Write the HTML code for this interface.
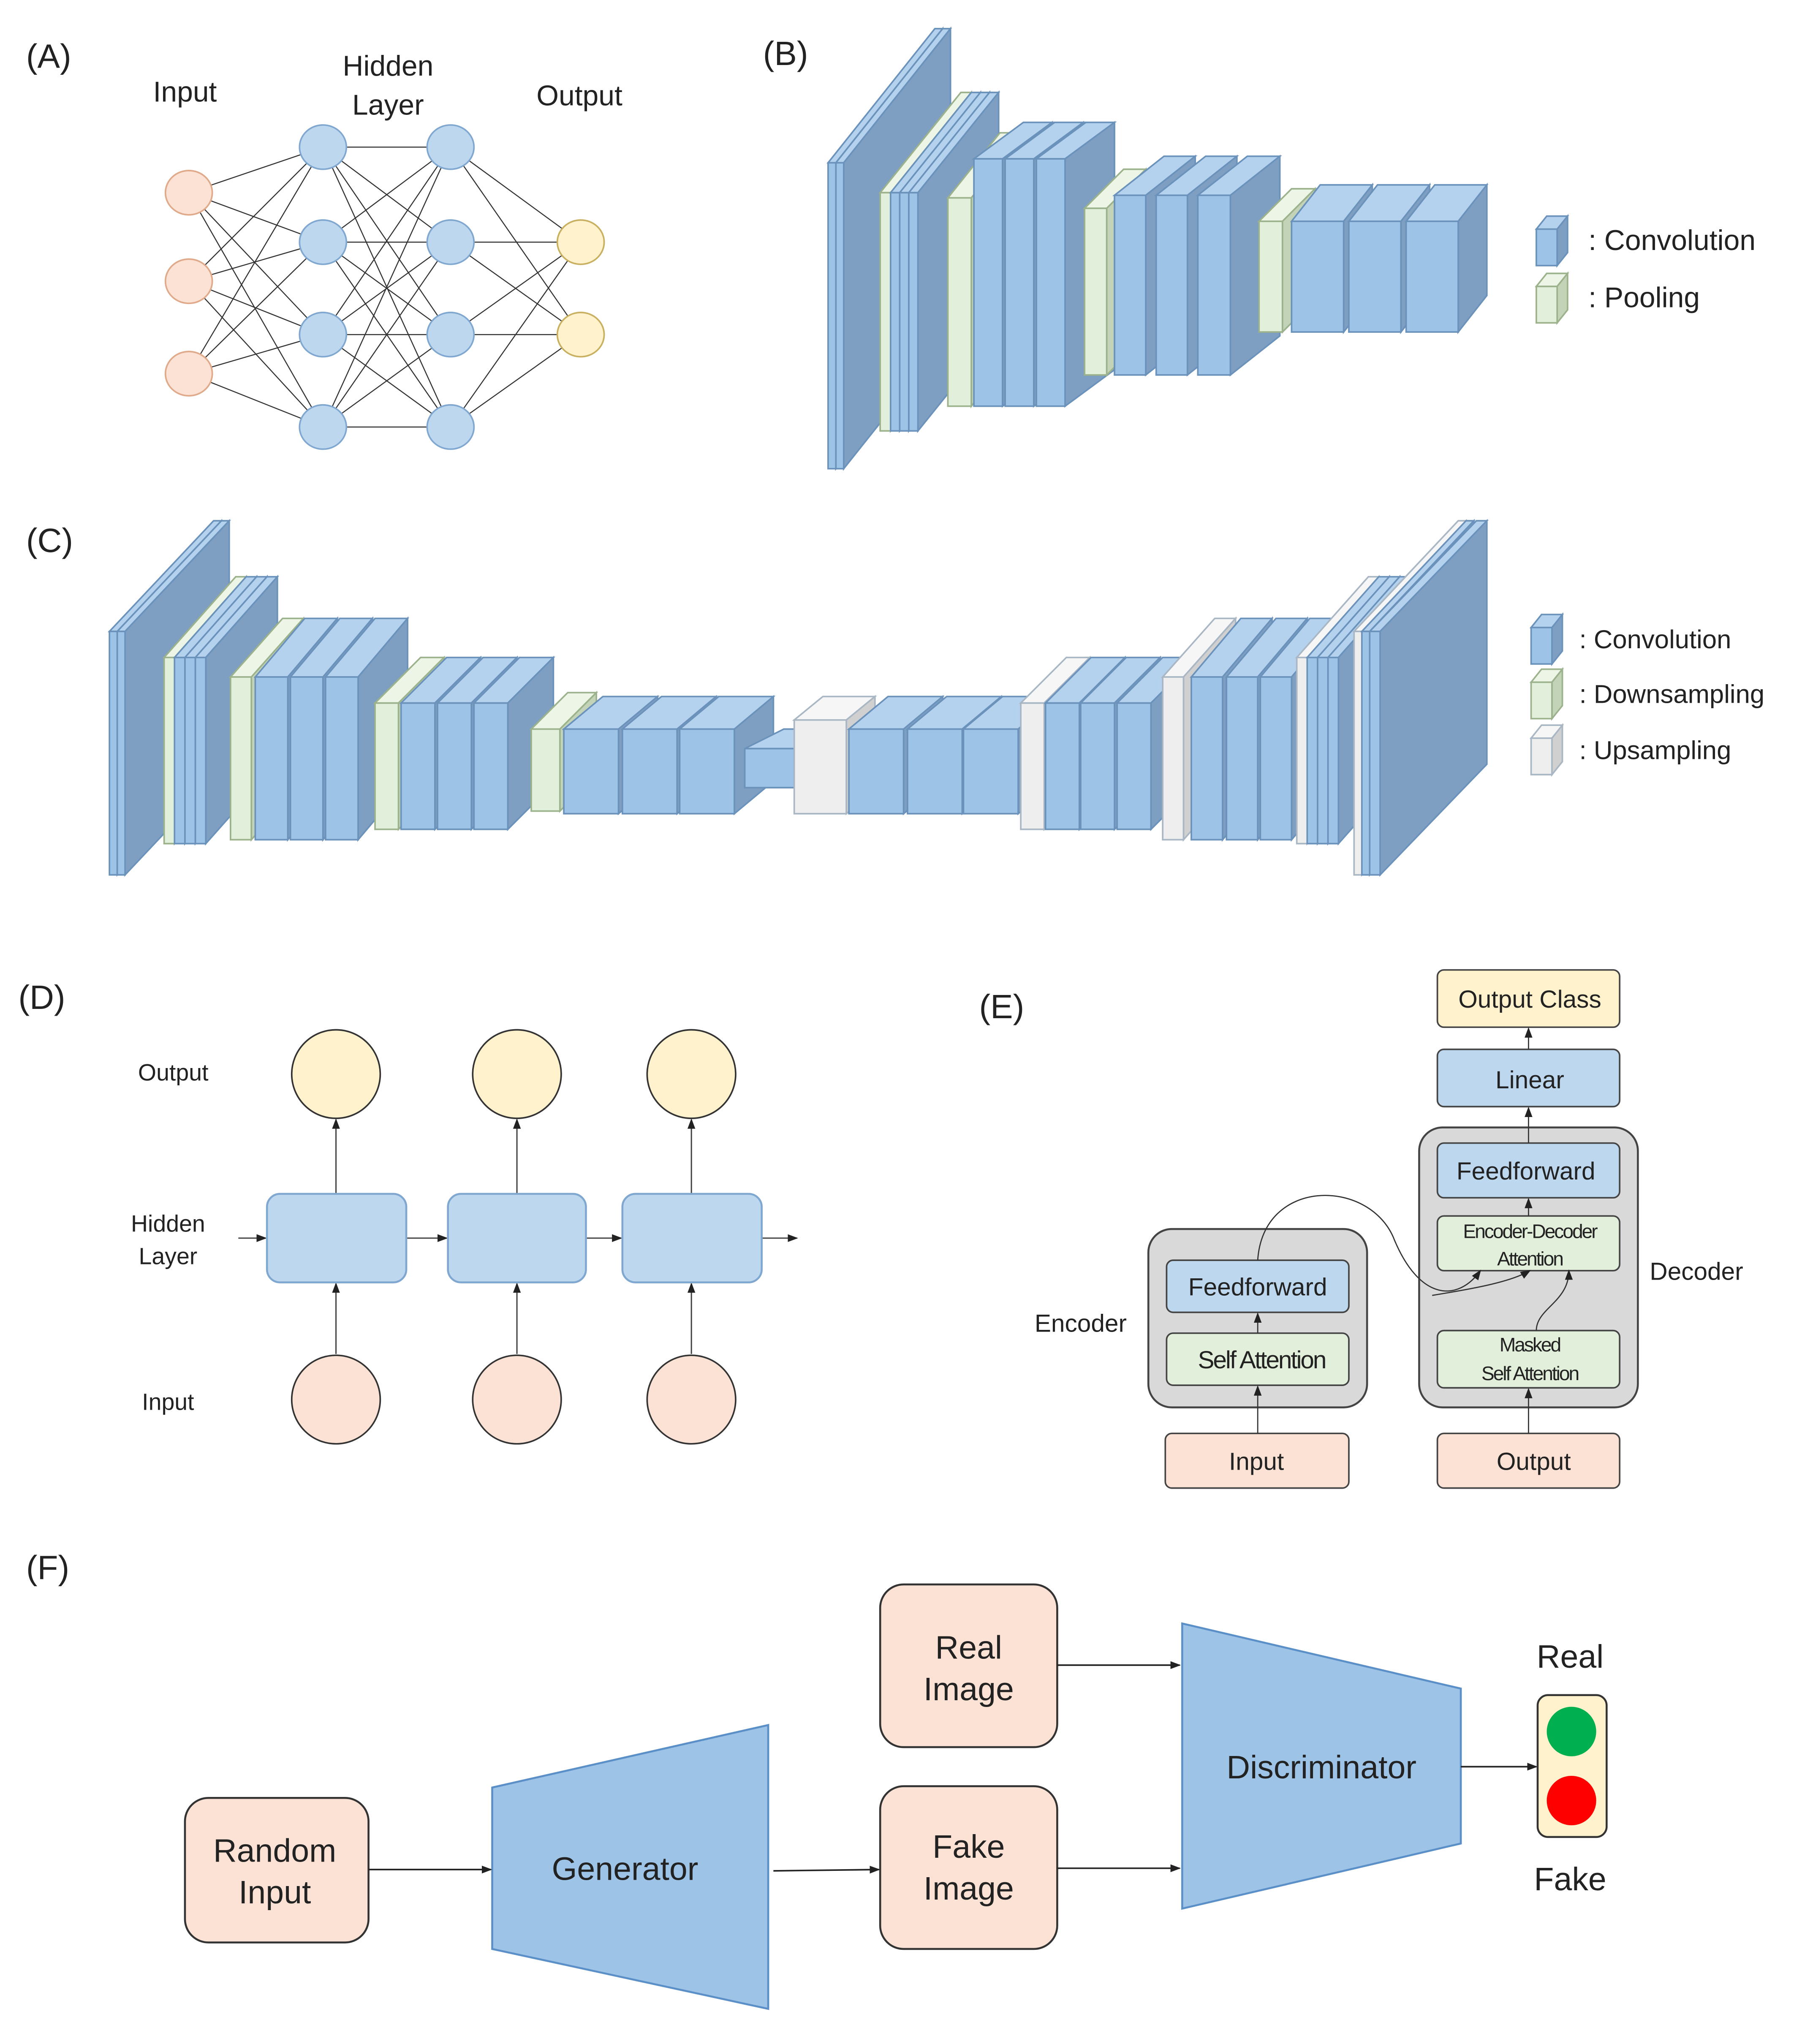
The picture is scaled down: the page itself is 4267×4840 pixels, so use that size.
<!DOCTYPE html>
<html><head><meta charset="utf-8"><style>
html,body{margin:0;padding:0;background:#fff}
svg{display:block}
text{font-family:"Liberation Sans",sans-serif;fill:#222}
</style></head><body>
<svg id="s" width="4267" height="4840" viewBox="0 0 1384 1570" xmlns="http://www.w3.org/2000/svg">
<defs>
<marker id="ar" markerWidth="8" markerHeight="8" refX="7" refY="4" orient="auto" markerUnits="userSpaceOnUse"><path d="M0,1 L8,4 L0,7 z" fill="#222"/></marker>
</defs>
<g id="boxes"></g>
<!-- Panel A -->
<g stroke="#333" stroke-width="0.8" id="alines"></g>
<g id="anodes"></g>
<text x="20" y="52" font-size="26">(A)</text>
<text x="142" y="78" font-size="22" text-anchor="middle">Input</text>
<text x="298" y="58" font-size="22" text-anchor="middle">Hidden</text>
<text x="298" y="88" font-size="22" text-anchor="middle">Layer</text>
<text x="445" y="81" font-size="22" text-anchor="middle">Output</text>
<text x="586" y="50" font-size="26">(B)</text>
<text x="20" y="424" font-size="26">(C)</text>
<text x="1220" y="192" font-size="22">: Convolution</text>
<text x="1220" y="236" font-size="22">: Pooling</text>
<text x="1213" y="498" font-size="20">: Convolution</text>
<text x="1213" y="540" font-size="20">: Downsampling</text>
<text x="1213" y="583" font-size="20">: Upsampling</text>
<!-- Panel D -->
<text x="14" y="775" font-size="26">(D)</text>
<text x="133" y="830" font-size="18" text-anchor="middle">Output</text>
<text x="129" y="946" font-size="18" text-anchor="middle">Hidden</text>
<text x="129" y="971" font-size="18" text-anchor="middle">Layer</text>
<text x="129" y="1083" font-size="18" text-anchor="middle">Input</text>
<g stroke="#444" stroke-width="1" fill="none" marker-end="url(#ar)">
<line x1="258" y1="1040" x2="258" y2="986"/><line x1="397" y1="1040" x2="397" y2="986"/><line x1="531" y1="1040" x2="531" y2="986"/>
<line x1="258" y1="917" x2="258" y2="860"/><line x1="397" y1="917" x2="397" y2="860"/><line x1="531" y1="917" x2="531" y2="860"/>
<line x1="183" y1="951" x2="204" y2="951"/><line x1="312" y1="951" x2="343" y2="951"/><line x1="450" y1="951" x2="477" y2="951"/><line x1="585" y1="951" x2="612" y2="951"/>
</g>
<g stroke="#7fa7d0" stroke-width="1.5" fill="#bdd7ee">
<rect x="205" y="917" width="107" height="68" rx="10"/><rect x="344" y="917" width="106" height="68" rx="10"/><rect x="478" y="917" width="107" height="68" rx="10"/>
</g>
<g stroke="#333" stroke-width="1.2">
<circle cx="258" cy="825" r="34" fill="#fff2cc"/><circle cx="397" cy="825" r="34" fill="#fff2cc"/><circle cx="531" cy="825" r="34" fill="#fff2cc"/>
<circle cx="258" cy="1075" r="34" fill="#fbe2d4"/><circle cx="397" cy="1075" r="34" fill="#fbe2d4"/><circle cx="531" cy="1075" r="34" fill="#fbe2d4"/>
</g>
<!-- Panel E -->
<text x="752" y="782" font-size="26">(E)</text>
<rect x="882" y="944" width="168" height="137" rx="18" fill="#d9d9d9" stroke="#444" stroke-width="1.5"/>
<rect x="1090" y="866" width="168" height="215" rx="18" fill="#d9d9d9" stroke="#444" stroke-width="1.5"/>
<g stroke="#444" stroke-width="1.2">
<rect x="1104" y="745" width="140" height="44" rx="5" fill="#fff2cc"/>
<rect x="1104" y="806" width="140" height="44" rx="5" fill="#bdd7ee"/>
<rect x="1104" y="878" width="140" height="42" rx="5" fill="#bdd7ee"/>
<rect x="1104" y="934" width="140" height="42" rx="5" fill="#e2efda"/>
<rect x="1104" y="1022" width="140" height="44" rx="5" fill="#e2efda"/>
<rect x="1104" y="1101" width="140" height="42" rx="5" fill="#fbe2d4"/>
<rect x="896" y="968" width="140" height="40" rx="5" fill="#bdd7ee"/>
<rect x="896" y="1024" width="140" height="40" rx="5" fill="#e2efda"/>
<rect x="895" y="1101" width="141" height="42" rx="5" fill="#fbe2d4"/>
</g>
<g stroke="#333" stroke-width="0.9" fill="none" marker-end="url(#ar)">
<line x1="1174" y1="806" x2="1174" y2="790"/>
<line x1="1174" y1="878" x2="1174" y2="851"/>
<line x1="1174" y1="934" x2="1174" y2="921"/>
<line x1="1174" y1="1101" x2="1174" y2="1067"/>
<line x1="966" y1="1101" x2="966" y2="1065"/>
<line x1="966" y1="1024" x2="966" y2="1009"/>
<path d="M1180,1022 C1180,1005 1205,1000 1205,976"/>
<path d="M966,968 C970,905 1050,905 1070,950 C1090,1000 1120,1000 1137,976"/>
<path d="M1100,995 C1130,990 1160,985 1175,976"/>
</g>
<g font-size="19" text-anchor="middle">
<text x="1175" y="774">Output Class</text>
<text x="1175" y="836">Linear</text>
<text x="1172" y="906">Feedforward</text>
<text x="1175" y="951" font-size="15" letter-spacing="-1">Encoder-Decoder</text>
<text x="1175" y="972" font-size="15" letter-spacing="-1">Attention</text>
<text x="1175" y="1038" font-size="15" letter-spacing="-1">Masked</text>
<text x="1175" y="1060" font-size="15" letter-spacing="-1">Self Attention</text>
<text x="1178" y="1129">Output</text>
<text x="966" y="995">Feedforward</text>
<text x="969" y="1051" letter-spacing="-1">Self Attention</text>
<text x="965" y="1129">Input</text>
<text x="830" y="1023">Encoder</text>
<text x="1303" y="983">Decoder</text>
</g>
<!-- Panel F -->
<text x="20" y="1213" font-size="26">(F)</text>
<g stroke="#333" stroke-width="1.5">
<rect x="142" y="1381" width="141" height="111" rx="18" fill="#fbe2d4"/>
<rect x="676" y="1217" width="136" height="125" rx="18" fill="#fbe2d4"/>
<rect x="676" y="1372" width="136" height="125" rx="18" fill="#fbe2d4"/>
<rect x="1181" y="1302" width="53" height="109" rx="8" fill="#fff2cc"/>
</g>
<polygon points="378,1373 590,1325 590,1543 378,1497" fill="#9dc3e6" stroke="#5b8fc7" stroke-width="1.5"/>
<polygon points="908,1247 1122,1297 1122,1416 908,1466" fill="#9dc3e6" stroke="#5b8fc7" stroke-width="1.5"/>
<circle cx="1207" cy="1330" r="19" fill="#00b050"/>
<circle cx="1207" cy="1383" r="19" fill="#ff0000"/>
<g stroke="#222" stroke-width="1.2" marker-end="url(#ar)">
<line x1="283" y1="1436" x2="377" y2="1436"/>
<line x1="594" y1="1437" x2="675" y2="1436"/>
<line x1="812" y1="1279" x2="906" y2="1279"/>
<line x1="812" y1="1435" x2="906" y2="1435"/>
<line x1="1122" y1="1357" x2="1180" y2="1357"/>
</g>
<g font-size="25" text-anchor="middle">
<text x="211" y="1430">Random</text><text x="211" y="1462">Input</text>
<text x="744" y="1274">Real</text><text x="744" y="1306">Image</text>
<text x="744" y="1427">Fake</text><text x="744" y="1459">Image</text>
<text x="480" y="1444">Generator</text>
<text x="1015" y="1366">Discriminator</text>
<text x="1206" y="1281">Real</text>
<text x="1206" y="1452">Fake</text>
</g>
</svg>
<script>
var NS="http://www.w3.org/2000/svg";
var g=document.getElementById('boxes');
var C={c:['#9dc3e6','#b4d2ee','#7f9fc2','#6a92bb'],p:['#e2efda','#edf5e6','#c3d3b8','#9cb28c'],u:['#eeeeee','#f6f6f6','#d0d0d0','#a9b6c4']};
function poly(pts,fill,st){var p=document.createElementNS(NS,'polygon');p.setAttribute('points',pts.map(a=>a.join(',')).join(' '));p.setAttribute('fill',fill);p.setAttribute('stroke',st);p.setAttribute('stroke-width','1.2');g.appendChild(p);}
function box(t,x,y,w,h,dx,dy){var c=C[t];
poly([[x,y],[x+dx,y-dy],[x+w+dx,y-dy],[x+w,y]],c[1],c[3]);
poly([[x+w,y],[x+w+dx,y-dy],[x+w+dx,y+h-dy],[x+w,y+h]],c[2],c[3]);
poly([[x,y],[x+w,y],[x+w,y+h],[x,y+h]],c[0],c[3]);}
function seq(list){list.forEach(a=>box.apply(null,a));}
// Panel B
seq([['c',636,125,6,235,82,103],['c',642,125,6,235,82,103],
['p',676,148,8,183,62,77],['c',684,148,7,183,62,77],['c',691,148,7,183,62,77],['c',698,148,7,183,62,77],
['p',728,152,18,160,40,50],['c',748,122,22,190,38,28],['c',772,122,22,190,38,28],['c',796,122,22,190,38,28],
['p',833,160,17,128,30,30],['c',856,150,24,138,38,30],['c',888,150,24,138,38,30],['c',920,150,25,138,38,30],
['p',967,170,18,85,25,25],['c',992,170,40,85,22,28],['c',1036,170,40,85,22,28],['c',1080,170,40,85,22,28]]);
box('c',1180,176,16,28,8,10);box('p',1180,220,16,28,8,10);
// Panel C
seq([['c',84,485,6,187,80,85],['c',90,485,6,187,80,85],
['p',126,505,8,143,55,62],['c',134,505,8,143,55,62],['c',142,505,8,143,55,62],['c',150,505,8,143,55,62],
['p',177,520,16,125,40,45],['c',196,520,25,125,38,45],['c',223,520,25,125,38,45],['c',250,520,25,125,38,45],
['p',288,540,18,97,35,35],['c',308,540,26,97,35,35],['c',336,540,26,97,35,35],['c',364,540,26,97,35,35],
['p',408,560,22,63,28,28],['c',433,560,42,65,30,25],['c',478,560,42,65,30,25],['c',522,560,42,65,30,25],
['c',572,575,38,30,30,15],
['u',610,553,40,72,22,18],['c',652,560,42,65,30,25],['c',697,560,42,65,30,25],['c',740,560,42,65,30,25],
['u',784,540,18,97,35,35],['c',803,540,26,97,35,35],['c',830,540,26,97,35,35],['c',858,540,26,97,35,35],
['u',893,520,16,125,40,45],['c',915,520,24,125,38,45],['c',942,520,24,125,38,45],['c',968,520,24,125,38,45],
['u',996,505,8,143,55,62],['c',1004,505,8,143,55,62],['c',1012,505,8,143,55,62],['c',1020,505,8,143,55,62],
['u',1040,485,6,187,80,85],['c',1046,485,6,187,80,85],['c',1052,485,8,187,82,85]]);
box('c',1176,482,16,28,8,10);box('p',1176,524,16,28,8,10);box('u',1176,567,16,28,8,10);
// Panel A
var L=[[145,[148,216,287]],[248,[113,186,257,328]],[346,[113,186,257,328]],[446,[186,257]]];
var al=document.getElementById('alines'),an=document.getElementById('anodes');
for(var i=0;i<3;i++){L[i][1].forEach(function(y1){L[i+1][1].forEach(function(y2){var l=document.createElementNS(NS,'line');l.setAttribute('x1',L[i][0]);l.setAttribute('y1',y1);l.setAttribute('x2',L[i+1][0]);l.setAttribute('y2',y2);al.appendChild(l);});});}
var fills=['#fbe2d4','#bdd7ee','#bdd7ee','#fff2cc'],strokes=['#e0a98a','#7fa7d0','#7fa7d0','#c9b060'];
L.forEach(function(c,i){c[1].forEach(function(y){var e=document.createElementNS(NS,'ellipse');e.setAttribute('cx',c[0]);e.setAttribute('cy',y);e.setAttribute('rx',18);e.setAttribute('ry',17);e.setAttribute('fill',fills[i]);e.setAttribute('stroke',strokes[i]);e.setAttribute('stroke-width','1.2');an.appendChild(e);});});
</script>
</body></html>
